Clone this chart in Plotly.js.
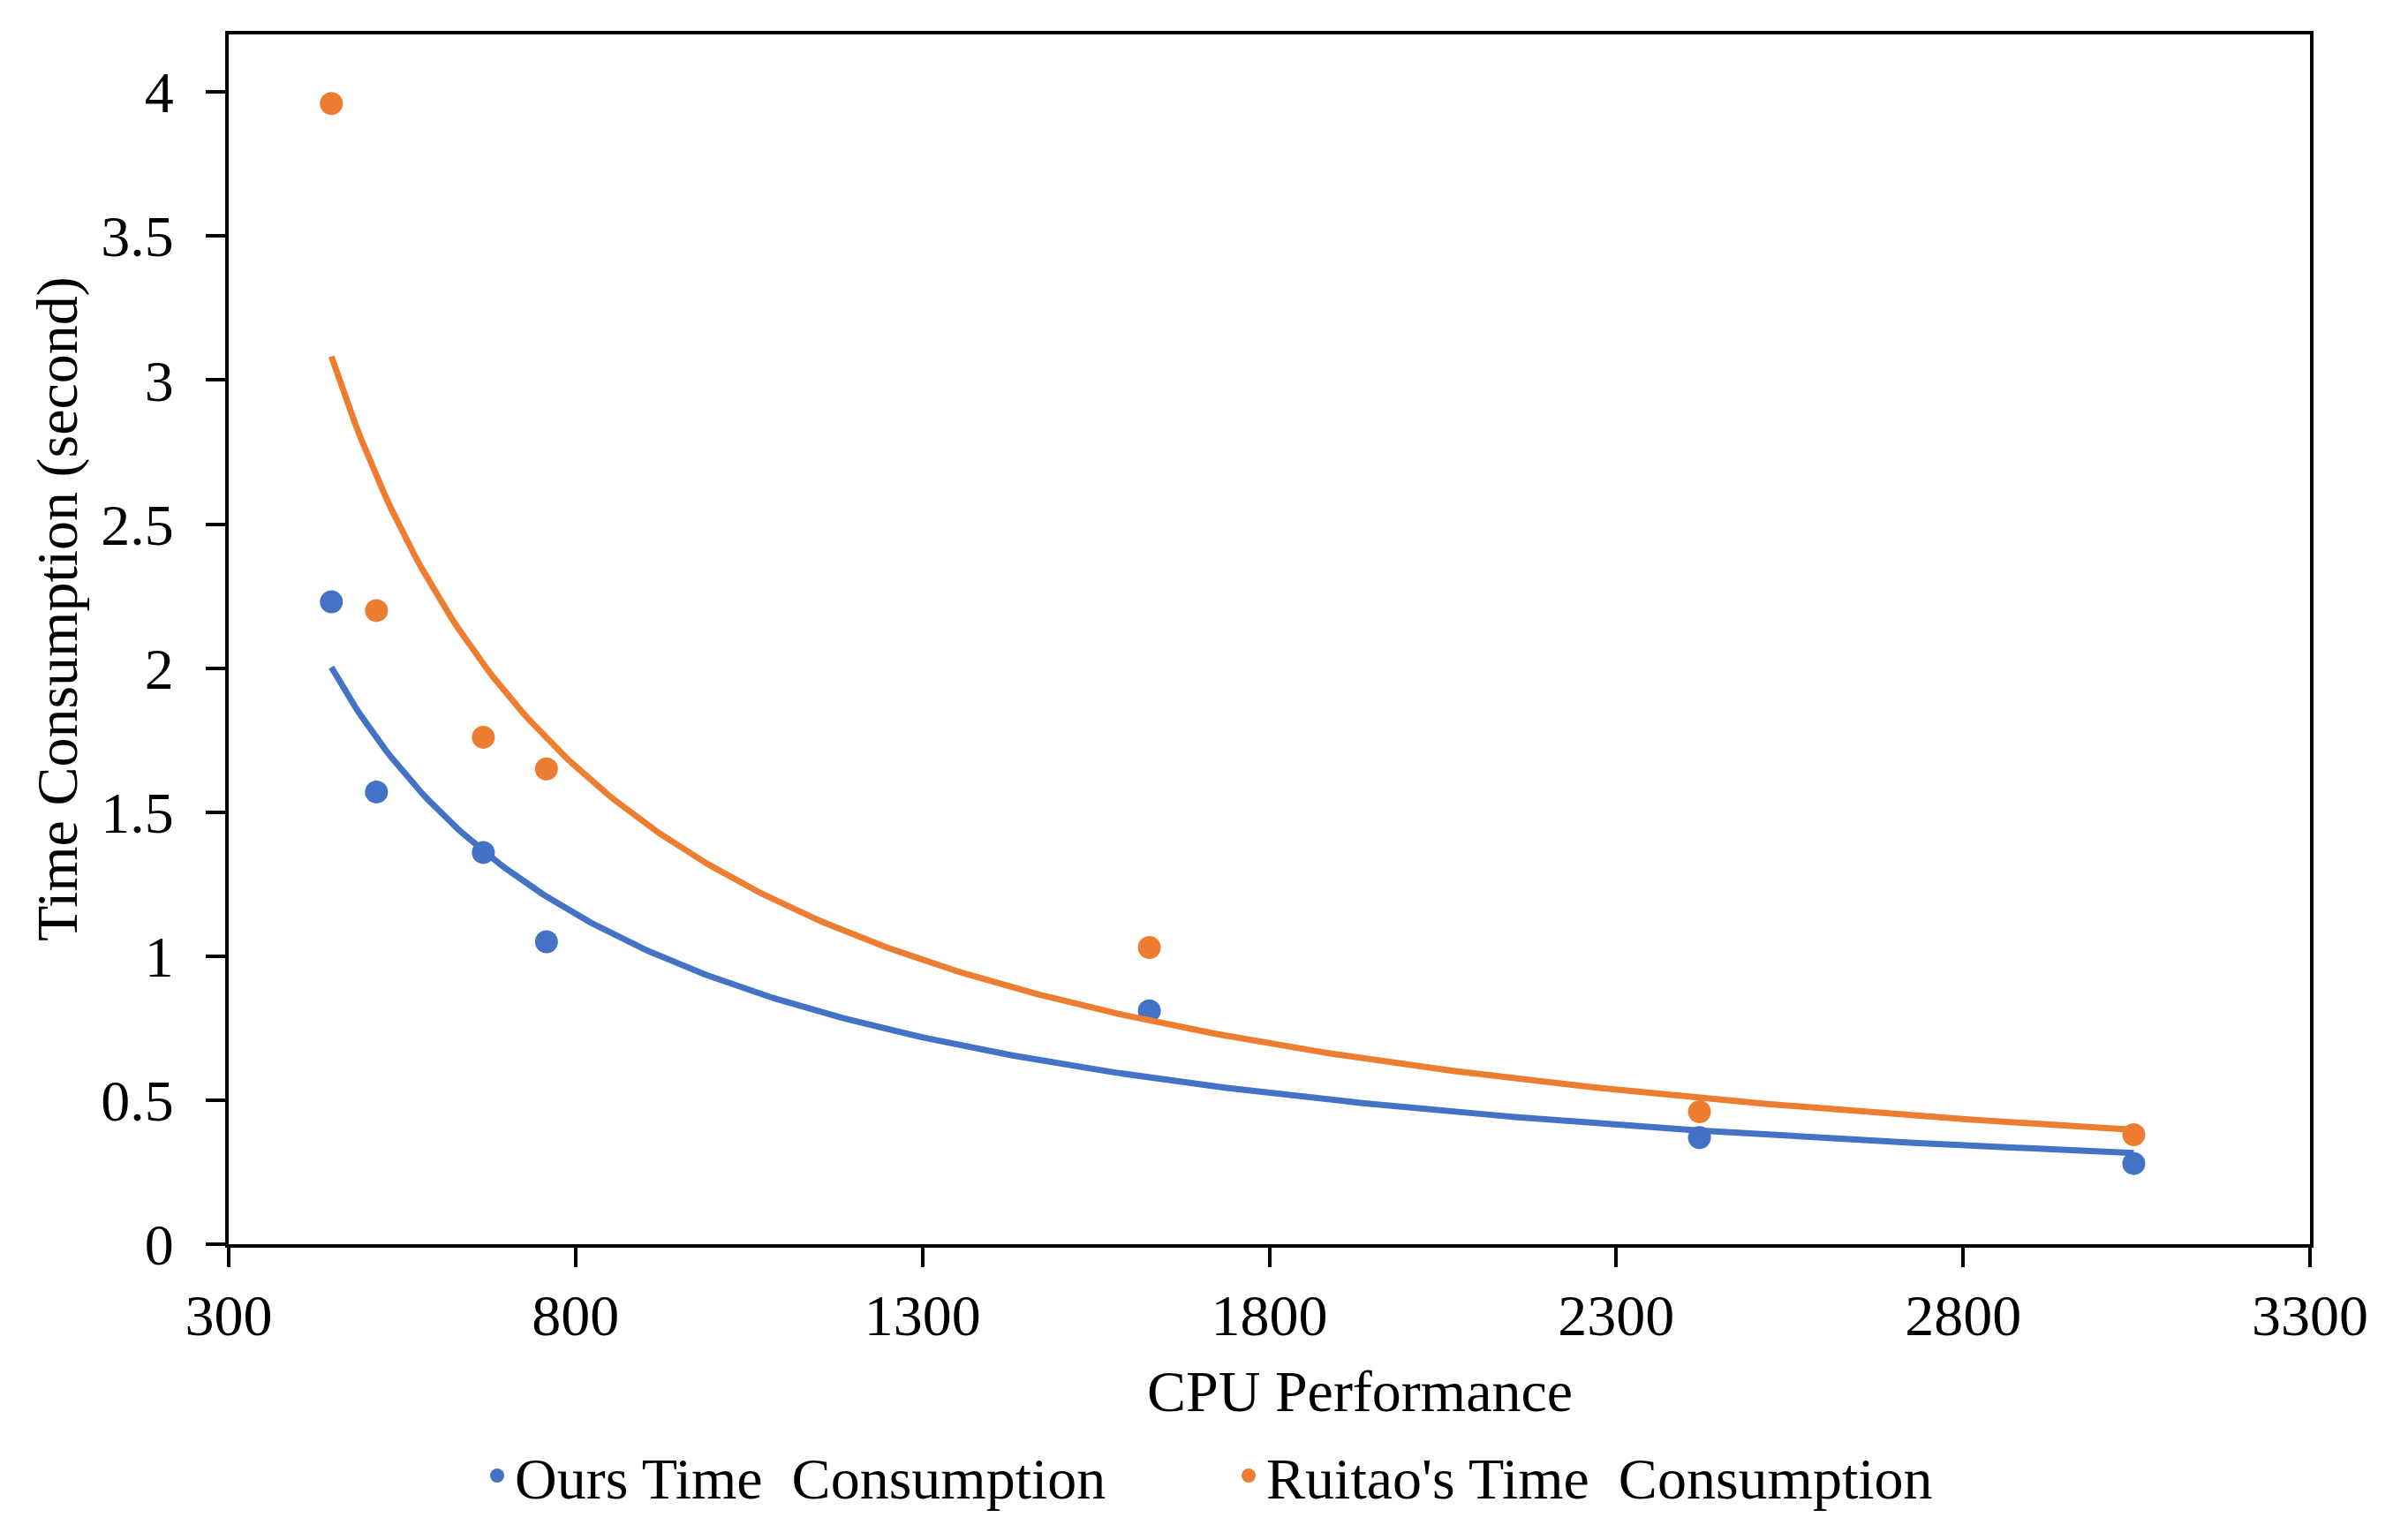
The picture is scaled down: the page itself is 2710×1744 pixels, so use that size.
<!DOCTYPE html>
<html>
<head>
<meta charset="utf-8">
<script src="https://cdn.plot.ly/plotly-3.0.1.min.js"></script>
<style>html,body{margin:0;padding:0;background:#fff;}#chart{width:2710px;height:1744px;}</style>
</head>
<body>
<div id="chart"></div>
<script>
// ---- data ----
const cpuPerformance = [448, 513, 667, 758, 1627, 2420, 3046];
const oursTime = [2.23, 1.57, 1.36, 1.05, 0.81, 0.37, 0.28];
const ruitaoTime = [3.96, 2.20, 1.76, 1.65, 1.03, 0.46, 0.38];
const seriesNames = ["Ours Time\u00a0 Consumption", "Ruitao's Time\u00a0 Consumption"];
const xTickValues = [300, 800, 1300, 1800, 2300, 2800, 3300];
const yTickValues = [0, 0.5, 1, 1.5, 2, 2.5, 3, 3.5, 4];
const xAxisTitle = "CPU Performance";
const yAxisTitle = "Time Consumption (second)";

const BLUE = "#4472C4", ORANGE = "#ED7D31";
const FONT = "Liberation Serif, Times New Roman, serif";

// power trendline (least squares in log-log space, like a spreadsheet "power" trendline)
function powerFit(xs, ys) {
  const lx = xs.map(Math.log), ly = ys.map(Math.log);
  const n = xs.length;
  const mx = lx.reduce((a, b) => a + b, 0) / n, my = ly.reduce((a, b) => a + b, 0) / n;
  let sxy = 0, sxx = 0;
  for (let i = 0; i < n; i++) { sxy += (lx[i] - mx) * (ly[i] - my); sxx += (lx[i] - mx) ** 2; }
  const b = sxy / sxx, a = Math.exp(my - b * mx);
  const xmin = Math.min(...xs), xmax = Math.max(...xs);
  const tx = [], ty = [];
  const steps = 300;
  for (let i = 0; i <= steps; i++) {
    const x = xmin + (xmax - xmin) * i / steps;
    tx.push(x); ty.push(a * Math.pow(x, b));
  }
  return {x: tx, y: ty};
}
const oursFit = powerFit(cpuPerformance, oursTime);
const ruitaoFit = powerFit(cpuPerformance, ruitaoTime);

const traces = [
  {x: cpuPerformance, y: oursTime, type: "scatter", mode: "markers", name: seriesNames[0],
   marker: {color: BLUE, size: 26}},
  {x: cpuPerformance, y: ruitaoTime, type: "scatter", mode: "markers", name: seriesNames[1],
   marker: {color: ORANGE, size: 26}},
  {x: oursFit.x, y: oursFit.y, type: "scatter", mode: "lines", showlegend: false,
   line: {color: BLUE, width: 7}, hoverinfo: "skip"},
  {x: ruitaoFit.x, y: ruitaoFit.y, type: "scatter", mode: "lines", showlegend: false,
   line: {color: ORANGE, width: 7}, hoverinfo: "skip"}
];

const axisCommon = {
  showgrid: false, zeroline: false, showline: true, linecolor: "#000", linewidth: 4,
  mirror: true, ticks: "outside", ticklen: 22, tickwidth: 4, tickcolor: "#000",
  tickfont: {family: FONT, size: 66, color: "#000"}
};

const layout = {
  width: 2710, height: 1744,
  margin: {l: 259, r: 94, t: 39, b: 335, pad: 0},
  paper_bgcolor: "#fff", plot_bgcolor: "#fff",
  font: {family: FONT, size: 66, color: "#000"},
  xaxis: Object.assign({}, axisCommon, {
    range: [300, 3300], tickmode: "array", tickvals: xTickValues,
    ticktext: xTickValues.map(String), ticklabelstandoff: -2
  }),
  yaxis: Object.assign({}, axisCommon, {
    range: [0, 4.2], tickmode: "array", tickvals: yTickValues,
    ticktext: yTickValues.map(String), ticklabelstandoff: 23
  }),
  showlegend: true,
  legend: {
    orientation: "h", x: 0.1205, xanchor: "left", y: -0.1913, yanchor: "middle",
    font: {family: FONT, size: 66, color: "#000"},
    entrywidth: 806, entrywidthmode: "pixels", bgcolor: "rgba(0,0,0,0)"
  },
  annotations: [
    {text: xAxisTitle, xref: "paper", yref: "paper", x: 0.5435, y: -0.1215,
     xanchor: "center", yanchor: "middle", showarrow: false,
     font: {family: FONT, size: 66, color: "#000"}},
    {text: yAxisTitle, xref: "paper", yref: "paper", x: -0.082, y: 0.5253,
     xanchor: "center", yanchor: "middle", showarrow: false, textangle: -90,
     font: {family: FONT, size: 66, color: "#000"}}
  ]
};

Plotly.newPlot("chart", traces, layout, {displayModeBar: false, staticPlot: true});
</script>
</body>
</html>
